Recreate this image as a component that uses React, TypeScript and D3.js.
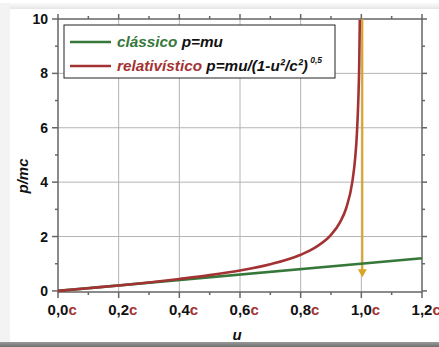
import React from "react";
import * as d3 from "d3";

const width = 439;
const height = 347;

// velocities as fraction of c
const uClassic = [0, 1.2];
const pClassic = [0, 1.2];
const uRel = [0, 0.1, 0.2, 0.3, 0.4, 0.5, 0.6, 0.7, 0.8, 0.85, 0.9, 0.93, 0.95, 0.97, 0.98, 0.985, 0.99, 0.993, 0.995];
const pRel = [0, 0.1, 0.2, 0.31, 0.44, 0.58, 0.75, 0.98, 1.33, 1.61, 2.06, 2.53, 3.04, 3.99, 4.92, 5.7, 7.0, 8.3, 9.97];
const xTickLabels = ["0,0", "0,2", "0,4", "0,6", "0,8", "1,0", "1,2"];
const yTickLabels = ["0", "2", "4", "6", "8", "10"];

const green = "#36773a";
const red = "#a33333";
const gold = "#d9a424";
const font = "'Liberation Sans', Arial, sans-serif";

const x = d3.scaleLinear().domain([0, 1.2]).range([58, 422]);
const y = d3.scaleLinear().domain([-0.04, 10]).range([292, 19]);

const line = d3
  .line<[number, number]>()
  .x((d) => x(d[0]))
  .y((d) => y(d[1]))
  .curve(d3.curveMonotoneX);

const classic = uClassic.map((u, i) => [u, pClassic[i]] as [number, number]);
const rel = uRel.map((u, i) => [u, pRel[i]] as [number, number]);

const xMajor = d3.range(0, 1.21, 0.2);
const xMinor = d3.range(0.1, 1.2, 0.2);
const yMajor = d3.range(0, 10.1, 2);
const yMinor = d3.range(1, 10, 2);

export default function App() {
  const x0 = x(0), x1 = x(1.2), yb = y.range()[0], yt = y.range()[1];
  const axisColor = "#666";
  return (
    <svg width={width} height={height} style={{ position: "absolute", left: 0, top: 0 }} fontFamily={font}>
      <defs>
        <linearGradient id="topband" x1="0" y1="0" x2="0" y2="1">
          <stop offset="0" stopColor="#fafafa" />
          <stop offset="1" stopColor="#e6e6e6" />
        </linearGradient>
        <linearGradient id="botband" x1="0" y1="0" x2="0" y2="1">
          <stop offset="0" stopColor="#9a9a9a" />
          <stop offset="1" stopColor="#6e6e6e" />
        </linearGradient>
      </defs>
      <rect width={width} height={height} fill="#fff" />
      <rect x={0} y={3} width={width} height={6} fill="url(#topband)" />
      <rect x={0} y={3} width={10} height={height} fill="#f3f3f3" />
      <rect x={0} y={342} width={width} height={5} fill="url(#botband)" />
      <rect x={10} y={9} width={width - 10} height={333} fill="#fff" />

      {/* grid */}
      <g stroke="#b4b4b4" strokeWidth={1}>
        {xMajor.slice(1, -1).map((t) => (
          <line key={"gx" + t} x1={x(t)} x2={x(t)} y1={yb} y2={yt} />
        ))}
        {yMajor.slice(1, -1).map((t) => (
          <line key={"gy" + t} x1={x0} x2={x1} y1={y(t)} y2={y(t)} />
        ))}
      </g>

      {/* frame + ticks */}
      <g stroke={axisColor} strokeWidth={1.5}>
        <rect x={x0} y={yt} width={x1 - x0} height={yb - yt} fill="none" />
        {xMajor.map((t) => (
          <g key={"tx" + t}>
            <line x1={x(t)} x2={x(t)} y1={yb} y2={yb + 6} />
            <line x1={x(t)} x2={x(t)} y1={yt} y2={yt - 5} />
          </g>
        ))}
        {xMinor.map((t) => (
          <g key={"mx" + t}>
            <line x1={x(t)} x2={x(t)} y1={yb} y2={yb + 3} />
            <line x1={x(t)} x2={x(t)} y1={yt} y2={yt - 3} />
          </g>
        ))}
        {yMajor.map((t) => (
          <g key={"ty" + t}>
            <line x1={x0} x2={x0 - 6} y1={y(t)} y2={y(t)} />
            <line x1={x1} x2={x1 + 5} y1={y(t)} y2={y(t)} />
          </g>
        ))}
        {yMinor.map((t) => (
          <g key={"my" + t}>
            <line x1={x0} x2={x0 - 3} y1={y(t)} y2={y(t)} />
            <line x1={x1} x2={x1 + 3} y1={y(t)} y2={y(t)} />
          </g>
        ))}
      </g>

      {/* tick labels */}
      <g fontSize={15} fontWeight="bold">
        {xMajor.map((t, i) => (
          <g key={"lx" + t}>
            <text x={x(t)} y={315} textAnchor="middle" fill="#111">{xTickLabels[i]}</text>
            <text x={x(t) + 10.4} y={315} fill={red}>c</text>
          </g>
        ))}
      </g>
      <g fontSize={14} fontWeight="bold" fill="#111">
        {yMajor.map((t, i) => (
          <text key={"ly" + t} x={48} y={y(t) + 5} textAnchor="end">{yTickLabels[i]}</text>
        ))}
      </g>

      {/* axis titles */}
      <text x={237} y={340} fontSize={15} fontWeight="bold" fontStyle="italic" fill="#111" textAnchor="middle">u</text>
      <text transform="translate(28,176) rotate(-90)" fontSize={15} fontWeight="bold" fontStyle="italic" fill="#111" textAnchor="middle">p/mc</text>

      {/* arrow at u = c */}
      <line x1={x(1) + 1} x2={x(1) + 1} y1={yt} y2={y(0.75)} stroke={gold} strokeWidth={2} />
      <path d={`M${x(1) + 1 - 4.5},${y(0.8)} L${x(1) + 1 + 4.5},${y(0.8)} L${x(1) + 1},${y(0.5)} Z`} fill={gold} />

      {/* curves */}
      <path d={line(classic) ?? ""} fill="none" stroke={green} strokeWidth={2.6} />
      <path d={line(rel) ?? ""} fill="none" stroke={red} strokeWidth={2.6} />

      {/* legend */}
      <rect x={64} y={25} width={271} height={53} fill="#fff" stroke="#222" strokeWidth={1} />
      <line x1={70} x2={111} y1={42} y2={42} stroke={green} strokeWidth={2.6} />
      <line x1={70} x2={111} y1={66} y2={66} stroke={red} strokeWidth={2.6} />
      <g fontSize={15.3} fontWeight="bold" fontStyle="italic">
        <text x={117} y={47}>
          <tspan fill={green}>clássico</tspan>
          <tspan fill="#111"> p=mu</tspan>
        </text>
        <text x={117} y={71}>
          <tspan fill={red}>relativístico</tspan>
          <tspan fill="#111"> p=mu/(1-u²/c²)</tspan>
          <tspan fill="#111" fontSize={8.5} dy={-8}> 0,5</tspan>
        </text>
      </g>
    </svg>
  );
}
